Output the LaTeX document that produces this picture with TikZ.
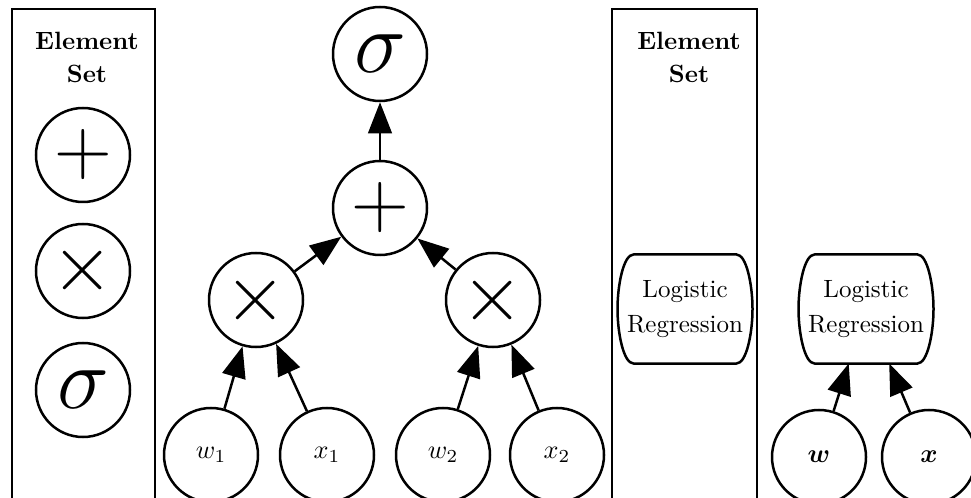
\RequirePackage{fix-cm}
\documentclass[tikz,border=0pt]{standalone}
\usepackage{bm}
\usetikzlibrary{arrows.meta,calc}
\newcommand\drawbarrel[1]{%
  \draw[line width=1pt] ($(#1.north west)+(16,0)$) -- ($(#1.north east)+(-16,0)$)
    .. controls ($(#1.north east)+(-6,0)$) and ($(#1.east)+(0,-24)$) .. (#1.east)
    .. controls ($(#1.east)+(0,24)$) and ($(#1.south east)+(-6,0)$) .. ($(#1.south east)+(-16,0)$)
    -- ($(#1.south west)+(16,0)$)
    .. controls ($(#1.south west)+(6,0)$) and ($(#1.west)+(0,24)$) .. (#1.west)
    .. controls ($(#1.west)+(0,-24)$) and ($(#1.north west)+(6,0)$) .. cycle;}
\begin{document}
\begin{tikzpicture}[x=0.4pt,y=-0.4pt,
  op/.style={draw,circle,line width=1pt,minimum size=37.6pt,inner sep=0pt},
  bigsym/.style={font=\fontsize{32}{32}\selectfont},
  sigsym/.style={font=\fontsize{35}{35}\selectfont},
  var/.style={draw,circle,line width=1pt,minimum size=37.6pt,inner sep=0pt,font=\fontsize{10.5}{12}\selectfont},
  lrbox/.style={minimum width=53.6pt,minimum height=43.2pt,inner sep=0pt,align=center,font=\fontsize{10}{14}\selectfont},
  settitle/.style={align=center,font=\fontsize{10}{13.2}\selectfont\bfseries},
  setbox/.style={line width=1pt},
  arr/.style={line width=1pt,-{Triangle[length=12.5pt,width=9.5pt]}}
]
\useasboundingbox (0,0) rectangle (971,498);
\clip (0,0) rectangle (971,498);
% left element set
\draw[setbox] (12,520) -- (12,9) -- (155,9) -- (155,520);
\node[settitle] (t1) at (87,57) {Element\\Set};
\node[op,bigsym] (ep) at (83,155) {$+$};
\node[op,bigsym] (em) at (83,271) {$\times$};
\node[op,sigsym] (es) at (83,390) {$\sigma$};
% main graph
\node[op,sigsym] (sig) at (380,54) {$\sigma$};
\node[op,bigsym] (plus) at (380,208) {$+$};
\node[op,bigsym] (mulL) at (256,300) {$\times$};
\node[op,bigsym] (mulR) at (493,300) {$\times$};
\node[var] (w1) at (211,455) {$w_1$};
\node[var] (x1) at (327,455) {$x_1$};
\node[var] (w2) at (443,455) {$w_2$};
\node[var] (x2) at (557,455) {$x_2$};
\draw[arr] (plus) -- (sig);
\draw[arr] (mulL) -- (plus);
\draw[arr] (mulR) -- (plus);
\draw[arr] (w1) -- (mulL);
\draw[arr] (x1) -- (mulL);
\draw[arr] (w2) -- (mulR);
\draw[arr] (x2) -- (mulR);
% second element set
\draw[setbox] (612,520) -- (612,9) -- (757,9) -- (757,520);
\node[settitle] (t2) at (689,57) {Element\\Set};
\node[lrbox] (lr1) at (685,309) {Logistic\\Regression};
\drawbarrel{lr1}
% right graph
\node[lrbox] (lr2) at (866,309) {Logistic\\Regression};
\drawbarrel{lr2}
\node[var] (w) at (819,457) {$\bm{w}$};
\node[var] (x) at (929,457) {$\bm{x}$};
\draw[arr] (w) -- (lr2);
\draw[arr] (x) -- (lr2);
\end{tikzpicture}
\end{document}
